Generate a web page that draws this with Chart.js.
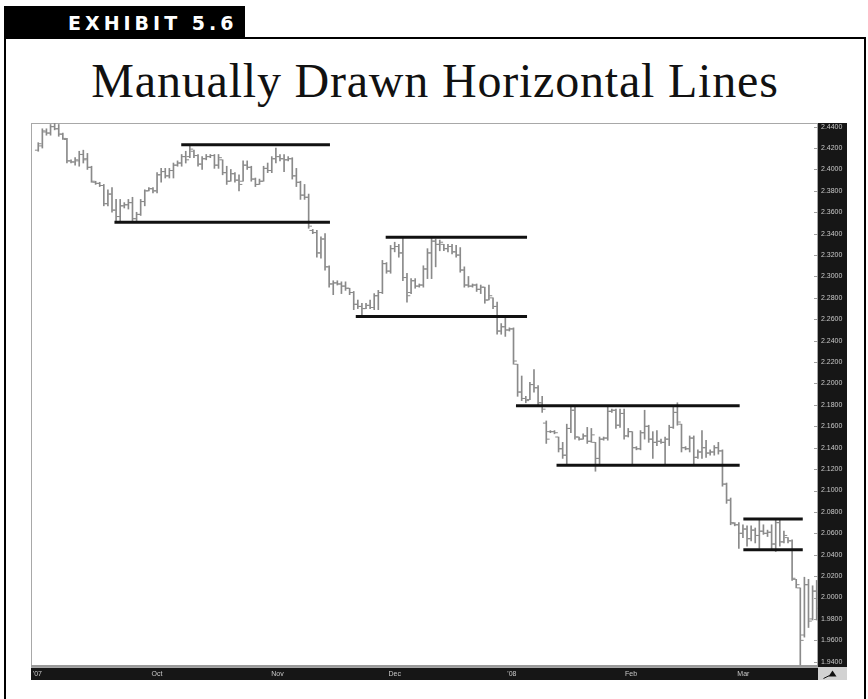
<!DOCTYPE html>
<html>
<head>
<meta charset="utf-8">
<title>Exhibit 5.6</title>
<script src="https://cdn.jsdelivr.net/npm/chart.js@4.4.1/dist/chart.umd.min.js"></script>
<style>
  html, body { margin: 0; padding: 0; background: #fff; width: 868px; height: 699px; overflow: hidden; }
  #exhibit {
    position: absolute; left: 4px; top: 6px; width: 241px; height: 32px;
    box-sizing: border-box; padding-left: 64px;
    background: #000; color: #fff; white-space: nowrap;
    font: bold 19px "DejaVu Sans", sans-serif; letter-spacing: 4px; line-height: 34px;
  }
  #frame {
    position: absolute; left: 4px; top: 37px; width: 858px; height: 700px;
    border: 2px solid #000; border-bottom: none;
  }
  #title {
    position: absolute; left: 4px; top: 57px; width: 862px; text-align: center;
    font: 48px "Liberation Serif", serif; line-height: 48px; letter-spacing: 0.8px; color: #111;
  }
  #chart { position: absolute; left: 26px; top: 118px; }
</style>
</head>
<body>
<div id="frame"></div>
<div id="exhibit">EXHIBIT 5.6</div>
<div id="title">Manually Drawn Horizontal Lines</div>
<canvas id="chart" width="821" height="562"></canvas>

<script>
// Daily bars, Sep '07 -> Mar '08 (index = bar number)
const highs = [
  2.425, 2.438, 2.438, 2.442, 2.443, 2.442, 2.434, 2.429, 2.409, 2.411,
  2.417, 2.418, 2.415, 2.403, 2.389, 2.388, 2.386, 2.381, 2.383, 2.372,
  2.372, 2.369, 2.372, 2.374, 2.360, 2.372, 2.381, 2.383, 2.383, 2.397,
  2.401, 2.401, 2.401, 2.406, 2.408, 2.414, 2.417, 2.422, 2.418, 2.414,
  2.412, 2.414, 2.414, 2.414, 2.414, 2.409, 2.403, 2.400, 2.397, 2.395,
  2.408, 2.408, 2.403, 2.392, 2.391, 2.403, 2.406, 2.412, 2.420, 2.414,
  2.414, 2.412, 2.411, 2.401, 2.389, 2.386, 2.377, 2.344, 2.343, 2.337,
  2.340, 2.310, 2.296, 2.296, 2.295, 2.295, 2.289, 2.286, 2.278, 2.275,
  2.275, 2.278, 2.284, 2.287, 2.315, 2.313, 2.329, 2.332, 2.330, 2.337,
  2.303, 2.298, 2.298, 2.293, 2.310, 2.326, 2.337, 2.335, 2.334, 2.330,
  2.330, 2.330, 2.329, 2.327, 2.309, 2.300, 2.293, 2.293, 2.292, 2.290,
  2.292, 2.280, 2.276, 2.256, 2.263, 2.252, 2.252, 2.218, 2.207, 2.188,
  2.201, 2.213, 2.198, 2.188, 2.165, 2.156, 2.156, 2.150, 2.145, 2.162,
  2.179, 2.179, 2.150, 2.153, 2.159, 2.158, 2.145, 2.150, 2.150, 2.178,
  2.176, 2.176, 2.176, 2.176, 2.158, 2.155, 2.141, 2.156, 2.175, 2.161,
  2.155, 2.156, 2.148, 2.150, 2.161, 2.178, 2.182, 2.162, 2.141, 2.151,
  2.151, 2.138, 2.156, 2.147, 2.138, 2.142, 2.145, 2.138, 2.107, 2.093,
  2.070, 2.070, 2.068, 2.067, 2.067, 2.065, 2.073, 2.068, 2.063, 2.068,
  2.073, 2.074, 2.062, 2.056, 2.054, 2.017, 2.009, 2.019, 2.017, 2.011,
  2.016
];
const lows = [
  2.417, 2.420, 2.432, 2.432, 2.437, 2.431, 2.428, 2.406, 2.406, 2.404,
  2.403, 2.406, 2.400, 2.388, 2.386, 2.384, 2.366, 2.366, 2.360, 2.351,
  2.351, 2.364, 2.363, 2.351, 2.351, 2.357, 2.366, 2.380, 2.378, 2.378,
  2.388, 2.392, 2.392, 2.392, 2.403, 2.403, 2.406, 2.411, 2.411, 2.403,
  2.400, 2.409, 2.411, 2.401, 2.401, 2.395, 2.386, 2.389, 2.388, 2.380,
  2.389, 2.400, 2.389, 2.384, 2.386, 2.389, 2.397, 2.397, 2.406, 2.408,
  2.398, 2.408, 2.391, 2.384, 2.372, 2.372, 2.345, 2.340, 2.318, 2.317,
  2.306, 2.290, 2.283, 2.292, 2.284, 2.287, 2.283, 2.269, 2.270, 2.264,
  2.270, 2.270, 2.269, 2.269, 2.284, 2.303, 2.303, 2.323, 2.318, 2.296,
  2.276, 2.284, 2.289, 2.290, 2.290, 2.298, 2.298, 2.309, 2.324, 2.324,
  2.323, 2.321, 2.318, 2.304, 2.290, 2.290, 2.290, 2.286, 2.284, 2.275,
  2.278, 2.270, 2.246, 2.246, 2.244, 2.249, 2.218, 2.188, 2.184, 2.182,
  2.185, 2.192, 2.179, 2.173, 2.144, 2.154, 2.153, 2.136, 2.130, 2.125,
  2.154, 2.148, 2.147, 2.148, 2.144, 2.145, 2.118, 2.125, 2.147, 2.147,
  2.173, 2.158, 2.159, 2.148, 2.150, 2.125, 2.138, 2.138, 2.148, 2.145,
  2.130, 2.142, 2.144, 2.125, 2.142, 2.158, 2.161, 2.136, 2.138, 2.136,
  2.125, 2.130, 2.130, 2.131, 2.133, 2.133, 2.134, 2.104, 2.088, 2.068,
  2.067, 2.046, 2.056, 2.048, 2.053, 2.051, 2.046, 2.059, 2.057, 2.045,
  2.043, 2.048, 2.051, 2.051, 2.016, 2.009, 1.937, 1.963, 1.972, 1.979,
  1.979
];
const opens = [
  2.418, 2.422, 2.435, 2.434, 2.440, 2.438, 2.433, 2.428, 2.408, 2.407,
  2.408, 2.414, 2.410, 2.402, 2.388, 2.387, 2.385, 2.368, 2.377, 2.362,
  2.356, 2.366, 2.367, 2.369, 2.354, 2.358, 2.370, 2.380, 2.382, 2.380,
  2.395, 2.398, 2.394, 2.399, 2.404, 2.406, 2.412, 2.412, 2.417, 2.413,
  2.405, 2.410, 2.412, 2.413, 2.404, 2.409, 2.397, 2.389, 2.396, 2.390,
  2.389, 2.404, 2.402, 2.391, 2.386, 2.389, 2.401, 2.399, 2.410, 2.412,
  2.410, 2.409, 2.410, 2.394, 2.388, 2.376, 2.374, 2.343, 2.341, 2.322,
  2.335, 2.309, 2.293, 2.294, 2.293, 2.291, 2.289, 2.285, 2.274, 2.272,
  2.270, 2.273, 2.271, 2.282, 2.285, 2.312, 2.305, 2.326, 2.328, 2.322,
  2.299, 2.285, 2.296, 2.291, 2.292, 2.307, 2.322, 2.333, 2.330, 2.330,
  2.326, 2.328, 2.323, 2.320, 2.306, 2.292, 2.291, 2.292, 2.288, 2.290,
  2.278, 2.280, 2.272, 2.249, 2.253, 2.250, 2.251, 2.218, 2.192, 2.186,
  2.185, 2.199, 2.196, 2.182, 2.163, 2.155, 2.155, 2.150, 2.139, 2.133,
  2.158, 2.175, 2.150, 2.148, 2.151, 2.146, 2.145, 2.130, 2.148, 2.149,
  2.174, 2.175, 2.161, 2.172, 2.151, 2.155, 2.140, 2.139, 2.154, 2.160,
  2.148, 2.145, 2.146, 2.145, 2.148, 2.159, 2.173, 2.162, 2.140, 2.139,
  2.149, 2.131, 2.136, 2.140, 2.135, 2.136, 2.140, 2.137, 2.106, 2.091,
  2.069, 2.068, 2.060, 2.064, 2.055, 2.063, 2.058, 2.062, 2.060, 2.061,
  2.050, 2.070, 2.052, 2.056, 2.053, 2.017, 2.009, 1.965, 2.012, 1.980,
  2.006
];
const closes = [
  2.424, 2.436, 2.434, 2.440, 2.438, 2.433, 2.429, 2.408, 2.407, 2.409,
  2.414, 2.409, 2.402, 2.389, 2.387, 2.385, 2.368, 2.377, 2.362, 2.356,
  2.366, 2.367, 2.369, 2.354, 2.358, 2.370, 2.380, 2.382, 2.380, 2.395,
  2.398, 2.394, 2.399, 2.404, 2.406, 2.412, 2.409, 2.419, 2.413, 2.405,
  2.410, 2.412, 2.413, 2.404, 2.411, 2.397, 2.389, 2.396, 2.390, 2.386,
  2.404, 2.402, 2.391, 2.386, 2.389, 2.401, 2.399, 2.410, 2.412, 2.410,
  2.409, 2.410, 2.394, 2.388, 2.376, 2.374, 2.347, 2.341, 2.322, 2.335,
  2.309, 2.293, 2.294, 2.293, 2.291, 2.289, 2.285, 2.274, 2.272, 2.270,
  2.273, 2.271, 2.282, 2.285, 2.312, 2.305, 2.326, 2.328, 2.322, 2.299,
  2.282, 2.296, 2.291, 2.292, 2.307, 2.322, 2.333, 2.330, 2.332, 2.326,
  2.328, 2.323, 2.320, 2.306, 2.292, 2.291, 2.292, 2.288, 2.290, 2.278,
  2.282, 2.272, 2.249, 2.253, 2.250, 2.251, 2.221, 2.192, 2.186, 2.184,
  2.199, 2.196, 2.182, 2.176, 2.148, 2.155, 2.154, 2.139, 2.133, 2.158,
  2.175, 2.150, 2.148, 2.151, 2.146, 2.152, 2.130, 2.148, 2.149, 2.174,
  2.175, 2.161, 2.172, 2.151, 2.155, 2.140, 2.139, 2.154, 2.160, 2.148,
  2.145, 2.146, 2.145, 2.148, 2.159, 2.173, 2.164, 2.140, 2.139, 2.149,
  2.131, 2.136, 2.140, 2.135, 2.136, 2.140, 2.137, 2.106, 2.091, 2.070,
  2.068, 2.060, 2.064, 2.055, 2.063, 2.058, 2.062, 2.060, 2.061, 2.050,
  2.070, 2.052, 2.058, 2.053, 2.018, 2.012, 1.960, 2.012, 1.978, 2.006,
  1.990
];

// Hand-drawn support/resistance lines: price, first bar, last bar
const levelPrices = [2.4231, 2.3506, 2.3367, 2.2626, 2.1793, 2.1237, 2.0733, 2.0446];
const levelFrom = [34.9, 18.6, 84.8, 77.5, 116.6, 126.5, 172.1, 172.1];
const levelTo = [71.2, 71.2, 119.3, 119.3, 171.2, 171.2, 186.6, 186.6];

// Axis labels
const xTickPos = [-0.2, 29, 58.4, 87, 115.6, 144.7, 172.1];
const xTickLabels = ["'07", "Oct", "Nov", "Dec", "'08", "Feb", "Mar"];
const yTicks = [
  2.44, 2.42, 2.40, 2.38, 2.36, 2.34, 2.32, 2.30, 2.28, 2.26, 2.24, 2.22, 2.20,
  2.18, 2.16, 2.14, 2.12, 2.10, 2.08, 2.06, 2.04, 2.02, 2.00, 1.98, 1.96, 1.94
];

const BAR_COLOR = "#8a8a8a";
const AXIS_FONT = { family: "Liberation Sans", size: 7 };

// Black price/time panels, light frame round the plot, corner button
const axisPanels = {
  id: "axisPanels",
  beforeDraw(chart) {
    const { ctx, chartArea: a } = chart;
    const xs = chart.scales.x;
    const ys = chart.scales.y;
    ctx.save();
    ctx.fillStyle = "#fff";
    ctx.fillRect(0, 0, chart.width, chart.height);
    ctx.fillStyle = "#161616";
    ctx.fillRect(ys.left, a.top, ys.width, a.bottom - a.top);
    ctx.fillRect(a.left, xs.top, a.right - a.left, xs.height);
    ctx.fillStyle = "#d2d2d2";
    ctx.fillRect(ys.left, xs.top, ys.width, xs.height);

    ctx.strokeStyle = "#a8a8a8";
    ctx.lineWidth = 1;
    ctx.strokeRect(a.left + 0.5, a.top + 0.5, a.right - a.left - 1, a.bottom - a.top);
    ctx.fillStyle = "#9a9a9a";
    ctx.fillRect(a.left, a.bottom - 2, a.right - a.left, 2);

    // short marks left of the price labels
    ctx.strokeStyle = "#a0a0a0";
    yTicks.forEach((v) => {
      const py = Math.round(ys.getPixelForValue(v)) + 0.5;
      ctx.beginPath();
      ctx.moveTo(a.right - 4, py);
      ctx.lineTo(a.right, py);
      ctx.stroke();
    });

    const cx = ys.left + ys.width / 2;
    const cy = xs.top + xs.height / 2;
    ctx.fillStyle = "#111";
    ctx.beginPath();
    ctx.moveTo(cx - 4, cy + 3);
    ctx.lineTo(cx, cy - 3);
    ctx.lineTo(cx + 4, cy + 3);
    ctx.closePath();
    ctx.fill();
    ctx.strokeStyle = "#111";
    ctx.beginPath();
    ctx.moveTo(cx - 9, cy + 5);
    ctx.lineTo(cx - 3, cy + 2);
    ctx.stroke();
    ctx.restore();
  },
};

function buildDatasets() {
  const sets = [];
  levelPrices.forEach((p, k) => {
    sets.push({
      type: "line",
      data: [{ x: levelFrom[k], y: p }, { x: levelTo[k], y: p }],
      borderColor: "#111",
      borderWidth: 3,
      borderCapStyle: "butt",
      pointRadius: 0,
      order: 0,
    });
  });
  sets.push({
    type: "bar",
    data: highs.map((h, i) => ({ x: i, y: [lows[i], h] })),
    backgroundColor: BAR_COLOR,
    borderWidth: 0,
    barThickness: 1,
    order: 2,
  });
  sets.push({
    type: "scatter",
    data: opens.map((o, i) => ({ x: i - 0.45, y: o })),
    pointStyle: "line",
    radius: 1.5,
    borderColor: BAR_COLOR,
    borderWidth: 1,
    order: 1,
  });
  sets.push({
    type: "scatter",
    data: closes.map((c, i) => ({ x: i + 0.45, y: c })),
    pointStyle: "line",
    radius: 1.5,
    borderColor: BAR_COLOR,
    borderWidth: 1,
    order: 1,
  });
  return sets;
}

function initChart() {
  new Chart(document.getElementById("chart"), {
    type: "bar",
    data: { datasets: buildDatasets() },
    plugins: [axisPanels],
    options: {
      responsive: false,
      animation: false,
      devicePixelRatio: 1,
      layout: { padding: 0 },
      events: [],
      plugins: { legend: { display: false }, tooltip: { enabled: false } },
      scales: {
        x: {
          type: "linear",
          min: -1.77,
          max: 190.32,
          offset: false,
          grid: { display: false, drawTicks: false },
          border: { display: false },
          afterBuildTicks: (s) => { s.ticks = xTickPos.map((v) => ({ value: v })); },
          afterFit: (s) => { s.height = 13; s.paddingLeft = 0; s.paddingRight = 0; },
          ticks: {
            autoSkip: false,
            maxRotation: 0,
            padding: 3,
            color: "#c8c8c8",
            font: AXIS_FONT,
            callback: (v, i) => xTickLabels[i],
          },
        },
        y: {
          type: "linear",
          position: "right",
          min: 1.9351,
          max: 2.4434,
          beginAtZero: false,
          grid: { display: false, drawTicks: false },
          border: { display: false },
          afterBuildTicks: (s) => { s.ticks = yTicks.map((v) => ({ value: v })); },
          afterFit: (s) => { s.width = 29; s.paddingTop = 0; s.paddingBottom = 0; },
          ticks: {
            padding: 3,
            color: "#c8c8c8",
            font: AXIS_FONT,
            callback: (v) => Number(v).toFixed(4),
          },
        },
      },
    },
  });
}

initChart();
</script>
</body>
</html>
